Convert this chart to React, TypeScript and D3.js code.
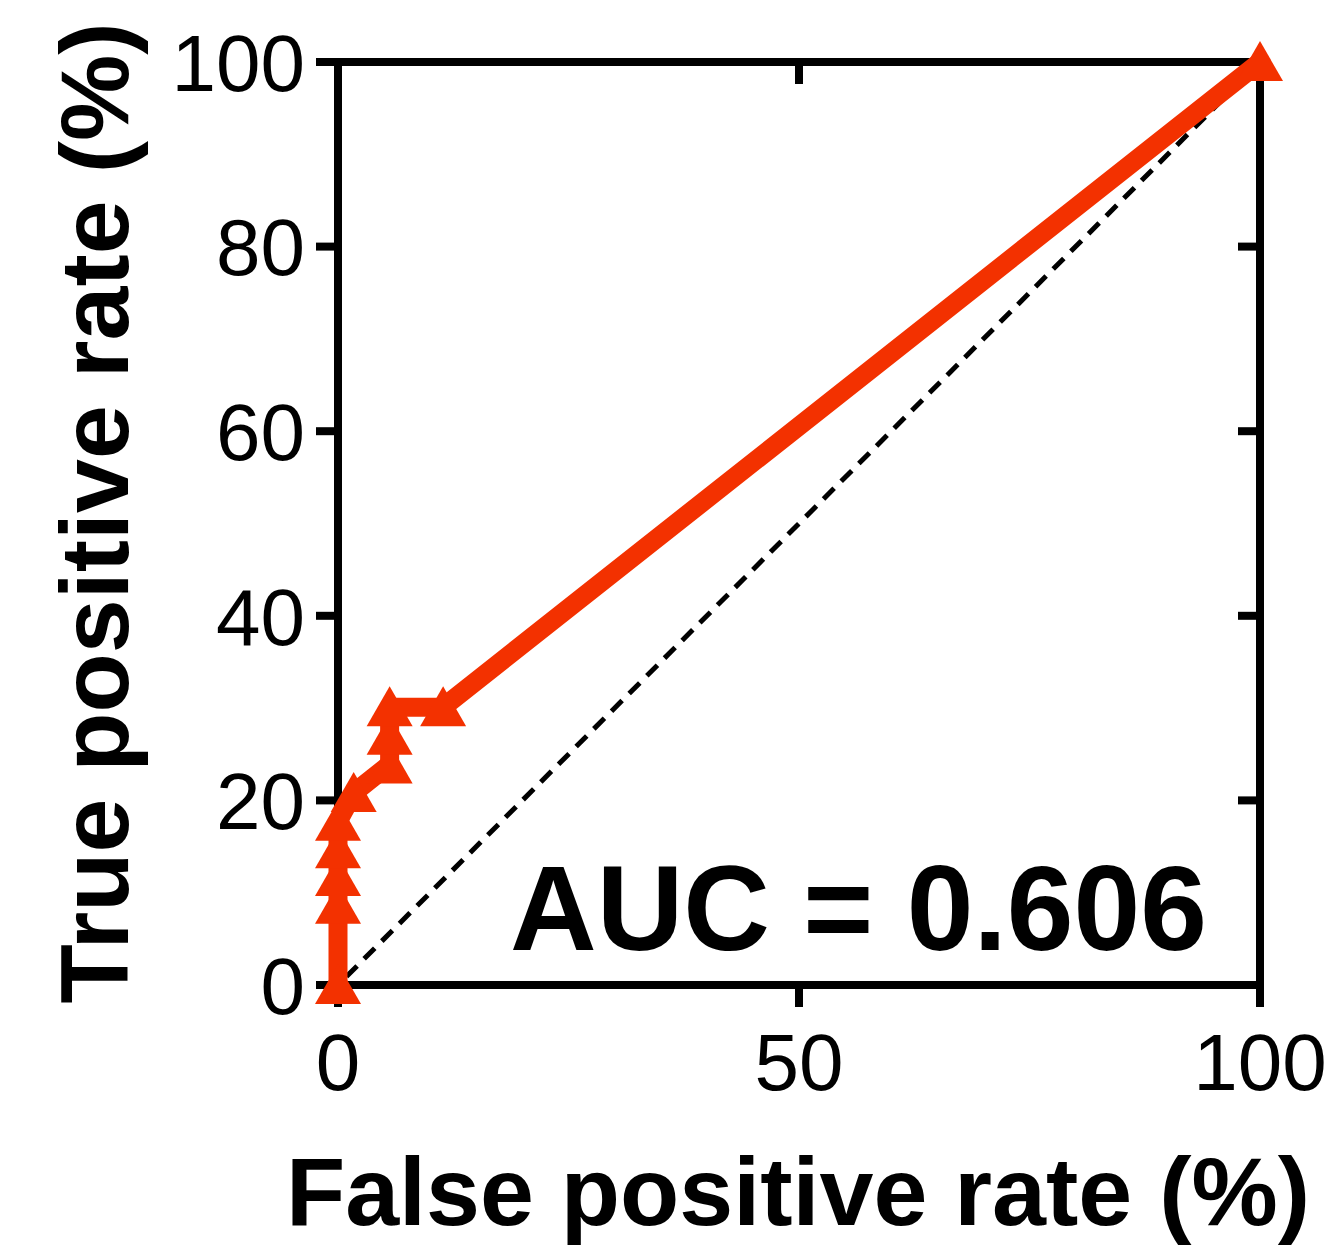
import React from "react";
import * as d3 from "d3";

// ROC points, values in percent
const fpr = [0, 0, 0, 0, 0, 1.7, 5.6, 5.6, 5.6, 11.4, 100];
const tpr = [0, 8.7, 11.7, 14.7, 17.7, 20.8, 23.9, 27.0, 30.1, 30.1, 100];
const xTicks = [0, 50, 100];
const yTicks = [0, 20, 40, 60, 80, 100];
const aucLabel = "AUC = 0.606";

const W = 1331;
const H = 1248;
const RED = "#f33100";

const App: React.FC = () => {
  const x = d3.scaleLinear().domain([0, 100]).range([338, 1260]);
  const y = d3.scaleLinear().domain([0, 100]).range([985, 62]);

  const points = fpr.map((f, i) => [f, tpr[i]] as [number, number]);
  const line = d3
    .line<[number, number]>()
    .x((d) => x(d[0]))
    .y((d) => y(d[1]));

  // triangle marker, ~45 wide, 40 tall, centred on the point
  const tri = (cx: number, cy: number) =>
    `M${cx},${cy - 21}L${cx + 23},${cy + 19}L${cx - 23},${cy + 19}Z`;

  const font = "Liberation Sans, Arial, Helvetica, sans-serif";

  return (
    <svg width={W} height={H} style={{ display: "block", position: "absolute", left: 0, top: 0 }}>
      <rect width={W} height={H} fill="#fff" />

      {/* reference diagonal */}
      <line
        x1={x(0)}
        y1={y(0)}
        x2={x(100)}
        y2={y(100)}
        stroke="#000"
        strokeWidth={5}
        strokeDasharray="15 10"
        strokeDashoffset={-12}
      />

      {/* frame */}
      <rect
        x={x(0)}
        y={y(100)}
        width={x(100) - x(0)}
        height={y(0) - y(100)}
        fill="none"
        stroke="#000"
        strokeWidth={8}
      />

      {/* left ticks (outward) and right ticks (inward) */}
      {yTicks.map((t) => (
        <g key={"y" + t}>
          <line x1={x(0) - 22} x2={x(0)} y1={y(t)} y2={y(t)} stroke="#000" strokeWidth={8} />
          <line x1={x(100) - 22} x2={x(100)} y1={y(t)} y2={y(t)} stroke="#000" strokeWidth={8} />
          <text
            x={x(0) - 33}
            y={y(t)}
            dy="0.36em"
            textAnchor="end"
            fontFamily={font}
            fontSize={80}
          >
            {t}
          </text>
        </g>
      ))}

      {/* bottom ticks (outward) and top ticks (inward) */}
      {xTicks.map((t) => (
        <g key={"x" + t}>
          <line x1={x(t)} x2={x(t)} y1={y(0)} y2={y(0) + 22} stroke="#000" strokeWidth={8} />
          <line x1={x(t)} x2={x(t)} y1={y(100)} y2={y(100) + 22} stroke="#000" strokeWidth={8} />
          <text
            x={x(t)}
            y={y(0) + 105}
            textAnchor="middle"
            fontFamily={font}
            fontSize={80}
          >
            {t}
          </text>
        </g>
      ))}

      {/* ROC curve */}
      <path
        d={line(points) || ""}
        fill="none"
        stroke={RED}
        strokeWidth={19}
        strokeLinejoin="round"
      />
      {points.map((p, i) => (
        <path key={i} d={tri(x(p[0]), y(p[1]))} fill={RED} />
      ))}

      <text
        x={1207}
        y={950}
        textAnchor="end"
        fontFamily={font}
        fontWeight="bold"
        fontSize={120}
      >
        {aucLabel}
      </text>

      {/* axis titles */}
      <text
        x={798}
        y={1225}
        textAnchor="middle"
        fontFamily={font}
        fontWeight="bold"
        fontSize={97}
      >
        False positive rate (%)
      </text>
      <text
        transform={`translate(128, 513) rotate(-90)`}
        textAnchor="middle"
        fontFamily={font}
        fontWeight="bold"
        fontSize={97}
      >
        True positive rate (%)
      </text>
    </svg>
  );
};

export default App;
